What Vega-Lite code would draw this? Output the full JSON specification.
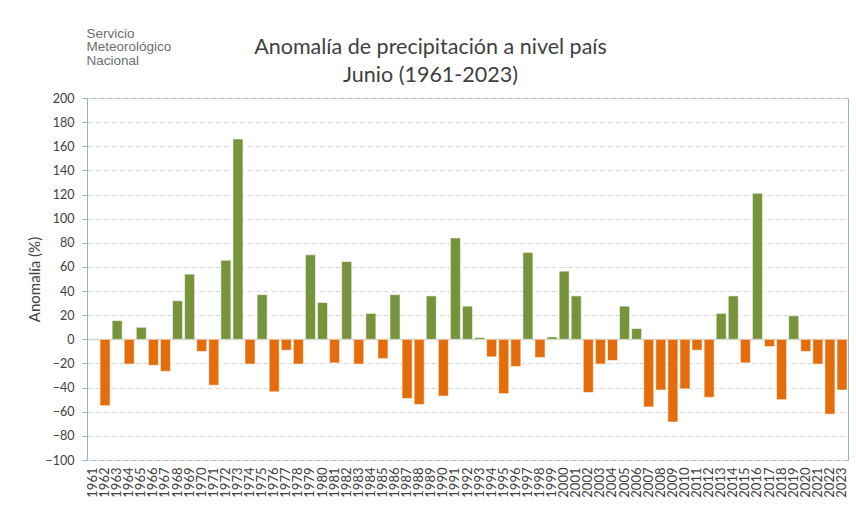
{
  "$schema": "https://vega.github.io/schema/vega-lite/v6.json",
  "width": 761,
  "height": 362,
  "autosize": {"type": "none"},
  "padding": {"left": 87, "top": 98, "right": 8, "bottom": 67},
  "background": "white",
  "title": {
    "text": ["Anomalía de precipitación a nivel país", "Junio (1961-2023)"],
    "font": "Lato",
    "fontSize": 21.5,
    "fontWeight": "normal",
    "color": "#404040",
    "anchor": "middle",
    "dx": -37,
    "dy": 72,
    "lineHeight": 28,
    "offset": 12
  },
  "data": {
    "values": [
      {"year": "1961", "anomalia": null},
      {"year": "1962", "anomalia": -55},
      {"year": "1963", "anomalia": 15.5},
      {"year": "1964", "anomalia": -20.5},
      {"year": "1965", "anomalia": 10},
      {"year": "1966", "anomalia": -21.5},
      {"year": "1967", "anomalia": -26.5},
      {"year": "1968", "anomalia": 32},
      {"year": "1969", "anomalia": 54},
      {"year": "1970", "anomalia": -10},
      {"year": "1971", "anomalia": -38},
      {"year": "1972", "anomalia": 65.5},
      {"year": "1973", "anomalia": 166},
      {"year": "1974", "anomalia": -20.5},
      {"year": "1975", "anomalia": 37},
      {"year": "1976", "anomalia": -43.5},
      {"year": "1977", "anomalia": -9},
      {"year": "1978", "anomalia": -20.5},
      {"year": "1979", "anomalia": 70},
      {"year": "1980", "anomalia": 30.5},
      {"year": "1981", "anomalia": -19.5},
      {"year": "1982", "anomalia": 64.5},
      {"year": "1983", "anomalia": -20.5},
      {"year": "1984", "anomalia": 21.5},
      {"year": "1985", "anomalia": -16},
      {"year": "1986", "anomalia": 37},
      {"year": "1987", "anomalia": -49},
      {"year": "1988", "anomalia": -54},
      {"year": "1989", "anomalia": 36},
      {"year": "1990", "anomalia": -47},
      {"year": "1991", "anomalia": 84},
      {"year": "1992", "anomalia": 27.5},
      {"year": "1993", "anomalia": 1.5},
      {"year": "1994", "anomalia": -14.5},
      {"year": "1995", "anomalia": -45},
      {"year": "1996", "anomalia": -22.5},
      {"year": "1997", "anomalia": 72},
      {"year": "1998", "anomalia": -15},
      {"year": "1999", "anomalia": 2},
      {"year": "2000", "anomalia": 56.5},
      {"year": "2001", "anomalia": 36},
      {"year": "2002", "anomalia": -44},
      {"year": "2003", "anomalia": -20.5},
      {"year": "2004", "anomalia": -17.5},
      {"year": "2005", "anomalia": 27.5},
      {"year": "2006", "anomalia": 9},
      {"year": "2007", "anomalia": -56},
      {"year": "2008", "anomalia": -42},
      {"year": "2009", "anomalia": -68.5},
      {"year": "2010", "anomalia": -41},
      {"year": "2011", "anomalia": -9},
      {"year": "2012", "anomalia": -48},
      {"year": "2013", "anomalia": 21.5},
      {"year": "2014", "anomalia": 36},
      {"year": "2015", "anomalia": -19.5},
      {"year": "2016", "anomalia": 121},
      {"year": "2017", "anomalia": -6},
      {"year": "2018", "anomalia": -50},
      {"year": "2019", "anomalia": 19.5},
      {"year": "2020", "anomalia": -10},
      {"year": "2021", "anomalia": -20.5},
      {"year": "2022", "anomalia": -62},
      {"year": "2023", "anomalia": -42}
    ]
  },
  "mark": {"type": "bar", "stroke": "#ffffff", "strokeOpacity": 0.55, "strokeWidth": 1},
  "encoding": {
    "x": {
      "field": "year",
      "type": "ordinal",
      "scale": {
        "domain": ["1961","1962","1963","1964","1965","1966","1967","1968","1969","1970","1971","1972","1973","1974","1975","1976","1977","1978","1979","1980","1981","1982","1983","1984","1985","1986","1987","1988","1989","1990","1991","1992","1993","1994","1995","1996","1997","1998","1999","2000","2001","2002","2003","2004","2005","2006","2007","2008","2009","2010","2011","2012","2013","2014","2015","2016","2017","2018","2019","2020","2021","2022","2023"],
        "paddingInner": 0.17,
        "paddingOuter": 0.08
      },
      "axis": {
        "labelAngle": -90,
        "labelFont": "Lato",
        "labelFontSize": 13,
        "labelColor": "#404040",
        "labelOverlap": false,
        "ticks": false,
        "domain": false,
        "labelPadding": 7,
        "title": ["Servicio", "Meteorológico", "Nacional"],
        "titleFont": "Liberation Sans",
        "titleFontSize": 13.5,
        "titleFontWeight": "normal",
        "titleColor": "#6e6e6e",
        "titleAnchor": "start",
        "titleAlign": "left",
        "titleBaseline": "alphabetic",
        "titleAngle": 0,
        "titleX": -1,
        "titleY": -423,
        "titleLineHeight": 13.5
      }
    },
    "y": {
      "field": "anomalia",
      "type": "quantitative",
      "scale": {"domain": [-100, 200], "nice": false},
      "axis": {
        "values": [-100, -80, -60, -40, -20, 0, 20, 40, 60, 80, 100, 120, 140, 160, 180, 200],
        "title": "Anomalía (%)",
        "titleFont": "Lato",
        "titleFontSize": 15,
        "titleFontWeight": "normal",
        "titleColor": "#404040",
        "titlePadding": 3,
        "labelFont": "Lato",
        "labelFontSize": 12.5,
        "labelColor": "#404040",
        "labelPadding": 8,
        "domainColor": "#95B3D7",
        "tickColor": "#95B3D7",
        "tickSize": 5,
        "grid": true,
        "gridColor": {"condition": {"test": "datum.value === 0", "value": "#D0D0D0"}, "value": "#D9D9D9"},
        "gridDash": {"condition": {"test": "datum.value === 0", "value": []}, "value": [5, 3]},
        "gridWidth": {"condition": {"test": "datum.value === 0", "value": 1.5}, "value": 1}
      }
    },
    "color": {
      "condition": {"test": "datum.anomalia >= 0", "value": "#77933C"},
      "value": "#E46C0A"
    }
  },
  "config": {"view": {"stroke": "#95B3D7", "strokeWidth": 1}}
}
